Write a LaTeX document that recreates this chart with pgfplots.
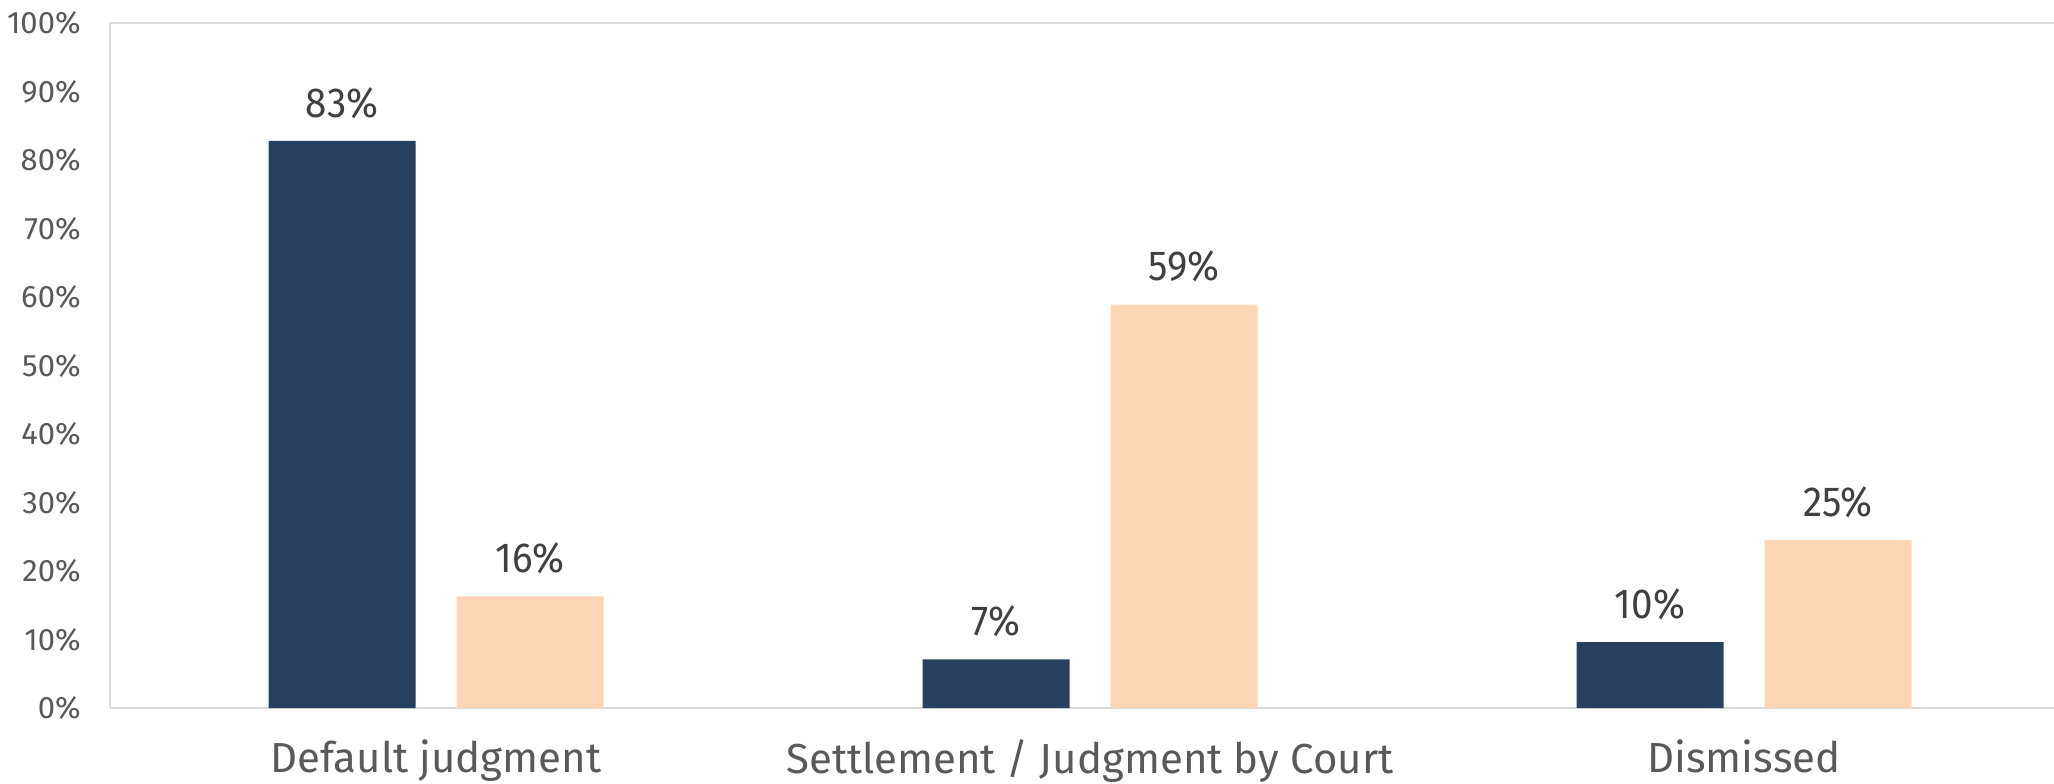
\documentclass[border=0pt]{standalone}
\usepackage{pgfplots}
\pgfplotsset{compat=1.18}
\usepackage{fontspec}
\setmainfont{Fira Sans}
\newfontfamily\lblfont[FakeStretch=0.92]{Fira Sans}
\definecolor{navy}{HTML}{27405F}
\definecolor{peach}{HTML}{FCD5B5}
\definecolor{tickgray}{HTML}{595959}
\definecolor{lblgray}{HTML}{404040}
\definecolor{axgray}{HTML}{D9D9D9}
\begin{document}
\begin{tikzpicture}
\begin{axis}[
  name=ax,
  scale only axis,
  width=972pt, height=342.5pt,
  xmin=-0.4985, xmax=2.474,
  ymin=0, ymax=100,
  ybar,
  bar width=73.5pt,
  axis x line=box,
  axis y line=left,
  axis line style={axgray, line width=1.2pt, -},
  xtick={0,1,2},
  xticklabels={Default judgment, Settlement / Judgment by Court, Dismissed},
  xtick style={draw=none},
  ytick={0,10,...,100},
  ytick style={draw=none},
  yticklabel={\pgfmathprintnumber{\tick}\%},
  /pgf/number format/assume math mode=true,
  xticklabel style={font=\fontsize{21}{23}\selectfont, text=tickgray, yshift=-8pt},
  yticklabel style={font=\fontsize{15.5}{17}\selectfont, text=tickgray, xshift=-9pt},
  nodes near coords={\pgfmathprintnumber[fixed,precision=0]{\pgfplotspointmeta}\%},
  every node near coord/.append style={font=\lblfont\fontsize{21}{23}\selectfont, text=lblgray, inner sep=0pt, yshift=11pt},
  clip=false,
]
\addplot[fill=navy, draw=none, bar shift=-47pt] coordinates {(0,82.8) (1,7.1) (2,9.6)};
\addplot[fill=peach, draw=none, bar shift=47pt] coordinates {(0,16.3) (1,58.9) (2,24.5)};
\end{axis}
\pgfresetboundingbox
\path ([xshift=-55pt,yshift=-37.5pt]ax.south west) rectangle ([yshift=11.5pt]ax.north east);
\end{tikzpicture}
\end{document}
